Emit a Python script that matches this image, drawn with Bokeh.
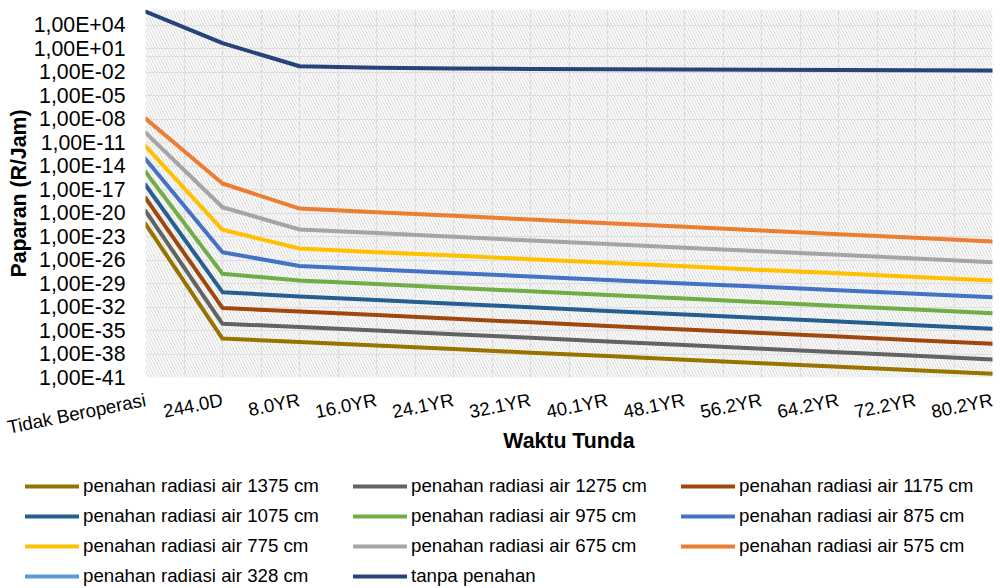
from bokeh.plotting import figure
from bokeh.layouts import column
from bokeh.models import (FixedTicker, CustomJSTickFormatter, Legend, LegendItem,
                          BoxAnnotation, Range1d)
from bokeh.embed import file_html
from bokeh.resources import INLINE

categories = ["Tidak Beroperasi", "244.0D", "8.0YR", "16.0YR", "24.1YR", "32.1YR",
              "40.1YR", "48.1YR", "56.2YR", "64.2YR", "72.2YR", "80.2YR"]

y_tick_values = [1e-41, 1e-38, 1e-35, 1e-32, 1e-29, 1e-26, 1e-23, 1e-20, 1e-17,
                 1e-14, 1e-11, 1e-08, 1e-05, 1e-02, 1e+01, 1e+04]
y_tick_labels = ["1,00E-41", "1,00E-38", "1,00E-35", "1,00E-32", "1,00E-29", "1,00E-26",
                 "1,00E-23", "1,00E-20", "1,00E-17", "1,00E-14", "1,00E-11", "1,00E-08",
                 "1,00E-05", "1,00E-02", "1,00E+01", "1,00E+04"]

air_1375 = [4.1e-22, 9.5e-37, 3.5e-37, 1.2e-37, 4.3e-38, 1.5e-38, 5.4e-39, 1.9e-39, 6.7e-40, 2.4e-40, 8.3e-41, 3.0e-41]
air_1275 = [1.9e-20, 7.2e-35, 2.8e-35, 9.8e-36, 3.4e-36, 1.2e-36, 4.1e-37, 1.4e-37, 4.8e-38, 1.7e-38, 5.8e-39, 2.0e-39]
air_1175 = [8.5e-19, 7.6e-33, 2.7e-33, 9.3e-34, 3.2e-34, 1.1e-34, 3.9e-35, 1.4e-35, 4.8e-36, 1.7e-36, 5.8e-37, 2.0e-37]
air_1075 = [3.9e-17, 7.9e-31, 2.2e-31, 7.7e-32, 2.7e-32, 9.3e-33, 3.2e-33, 1.1e-33, 4.0e-34, 1.4e-34, 4.8e-35, 1.7e-35]
air_975 = [1.8e-15, 1.8e-28, 2.5e-29, 8.5e-30, 2.9e-30, 1.0e-30, 3.5e-31, 1.2e-31, 4.1e-32, 1.4e-32, 4.9e-33, 1.6e-33]
air_875 = [8.1e-14, 1.0e-25, 1.7e-27, 6.2e-28, 2.3e-28, 8.1e-29, 2.9e-29, 1.0e-29, 3.8e-30, 1.4e-30, 4.9e-31, 1.8e-31]
air_775 = [3.7e-12, 7.3e-23, 3.0e-25, 1.0e-25, 3.7e-26, 1.3e-26, 4.6e-27, 1.6e-27, 5.5e-28, 2.0e-28, 6.9e-29, 2.5e-29]
air_675 = [1.9e-10, 5.6e-20, 8.0e-23, 2.8e-23, 9.3e-24, 3.2e-24, 1.1e-24, 3.8e-25, 1.3e-25, 4.6e-26, 1.6e-26, 5.4e-27]
air_575 = [1.2e-08, 6.0e-17, 3.8e-20, 1.3e-20, 4.5e-21, 1.5e-21, 5.1e-22, 1.8e-22, 6.0e-23, 2.0e-23, 6.9e-24, 2.3e-24]
air_328 = []  # not visible within the chart's range
tanpa_penahan = [5.5e+05, 5.0e+01, 5.6e-02, 3.6e-02, 2.9e-02, 2.6e-02, 2.37e-02, 2.17e-02, 1.99e-02, 1.88e-02, 1.72e-02, 1.62e-02]

series = [
    ("penahan radiasi air 1375 cm", air_1375, "#997300"),
    ("penahan radiasi air 1275 cm", air_1275, "#636363"),
    ("penahan radiasi air 1175 cm", air_1175, "#9E480E"),
    ("penahan radiasi air 1075 cm", air_1075, "#255E91"),
    ("penahan radiasi air 975 cm", air_975, "#70AD47"),
    ("penahan radiasi air 875 cm", air_875, "#4472C4"),
    ("penahan radiasi air 775 cm", air_775, "#FFC000"),
    ("penahan radiasi air 675 cm", air_675, "#A5A5A5"),
    ("penahan radiasi air 575 cm", air_575, "#ED7D31"),
    ("penahan radiasi air 328 cm", air_328, "#5B9BD5"),
    ("tanpa penahan", tanpa_penahan, "#264478"),
]

x_pos = list(range(len(categories)))

FONT = "Liberation Sans"
GRID = "#dcdcdc"
LINE_W = 4

p = figure(width=1000, height=462, output_backend="svg", toolbar_location=None,
           y_axis_type="log", x_range=Range1d(0, len(categories) - 1),
           y_range=Range1d(1e-41, 1e6),
           min_border_left=145, min_border_right=8, min_border_top=9, min_border_bottom=85,
           background_fill_color="white", border_fill_color="white")
p.outline_line_color = None
p.frame_align = False

# hatched plot area
hatch = BoxAnnotation(fill_color=None, fill_alpha=0, line_color=None,
                      hatch_pattern="\\", hatch_color="#e0e0e0", hatch_scale=6,
                      hatch_weight=1.3, hatch_alpha=1.0, level="underlay")
p.add_layout(hatch)

# grids
p.xgrid.ticker = FixedTicker(ticks=x_pos, minor_ticks=[i + 0.5 for i in x_pos[:-1]])
p.xgrid.grid_line_color = GRID
p.xgrid.minor_grid_line_color = GRID
p.xgrid.grid_line_width = 1.2
p.xgrid.minor_grid_line_width = 1.2
p.ygrid.ticker = FixedTicker(ticks=y_tick_values, minor_ticks=[1.0])
p.ygrid.grid_line_color = GRID
p.ygrid.minor_grid_line_color = GRID
p.ygrid.grid_line_width = 1.2
p.ygrid.minor_grid_line_width = 1.2

# axes
p.xaxis.ticker = FixedTicker(ticks=x_pos)
p.xaxis.formatter = CustomJSTickFormatter(args=dict(labels=categories),
                                          code="return labels[Math.round(tick)];")
p.xaxis.major_label_orientation = 0.2
p.xaxis.major_label_standoff = 22
p.xaxis.axis_label = "Waktu Tunda"
p.xaxis.axis_label_standoff = -22

p.yaxis.ticker = FixedTicker(ticks=y_tick_values)
p.yaxis.formatter = CustomJSTickFormatter(
    args=dict(labels=y_tick_labels, vals=y_tick_values),
    code="""
const e = Math.log10(tick);
let best = 0, bd = 1e9;
for (let i = 0; i < vals.length; i++) {
  const d = Math.abs(Math.log10(vals[i]) - e);
  if (d < bd) { bd = d; best = i; }
}
return labels[best];
""")
p.yaxis.major_label_standoff = 20
p.yaxis.axis_label = "Paparan (R/Jam)"
p.yaxis.axis_label_standoff = 0

for ax in (p.xaxis[0], p.yaxis[0]):
    ax.axis_line_color = None
    ax.major_tick_line_color = None
    ax.minor_tick_line_color = None
    ax.major_tick_out = 0
    ax.major_tick_in = 0
    ax.minor_tick_out = 0
    ax.major_label_text_font = FONT
    ax.major_label_text_color = "black"
    ax.axis_label_text_font = FONT
    ax.axis_label_text_font_style = "bold"
    ax.axis_label_text_font_size = "21.3px"
    ax.axis_label_text_color = "black"
p.xaxis.major_label_text_font_size = "18.7px"
p.yaxis.major_label_text_font_size = "21.3px"

for name, vals, color in series:
    xs = x_pos[:len(vals)]
    p.line(xs, vals, line_color=color, line_width=LINE_W, line_join="round", line_cap="round")

# legend strip below the chart (same series names and colours);
# each legend proxy holds one undefined (NaN) value, so nothing is drawn in its frame
lg = figure(width=1000, height=126, output_backend="svg", toolbar_location=None,
            x_range=Range1d(0, 1), y_range=Range1d(0, 1),
            x_axis_location=None, y_axis_location=None,
            min_border_left=0, min_border_right=0, min_border_top=0, min_border_bottom=0,
            background_fill_color="white", border_fill_color="white")
lg.outline_line_color = None
lg.frame_align = False
lg.xgrid.visible = False
lg.ygrid.visible = False
items = []
for name, vals, color in series:
    r = lg.line([0], [float("nan")], line_color=color, line_width=LINE_W, line_cap="round")
    items.append(LegendItem(label=name, renderers=[r]))

legend = Legend(items=items, location=(25, 1), orientation="horizontal", ncols=3,
                glyph_width=54, glyph_height=20, label_width=262, label_height=20,
                label_standoff=4, spacing=8, padding=0, margin=0,
                border_line_color=None, background_fill_alpha=0,
                label_text_font=FONT, label_text_font_size="18.7px",
                label_text_color="black")
lg.add_layout(legend)

page = column(p, lg, spacing=0)
open("out.html", "w").write(file_html(page, INLINE))
